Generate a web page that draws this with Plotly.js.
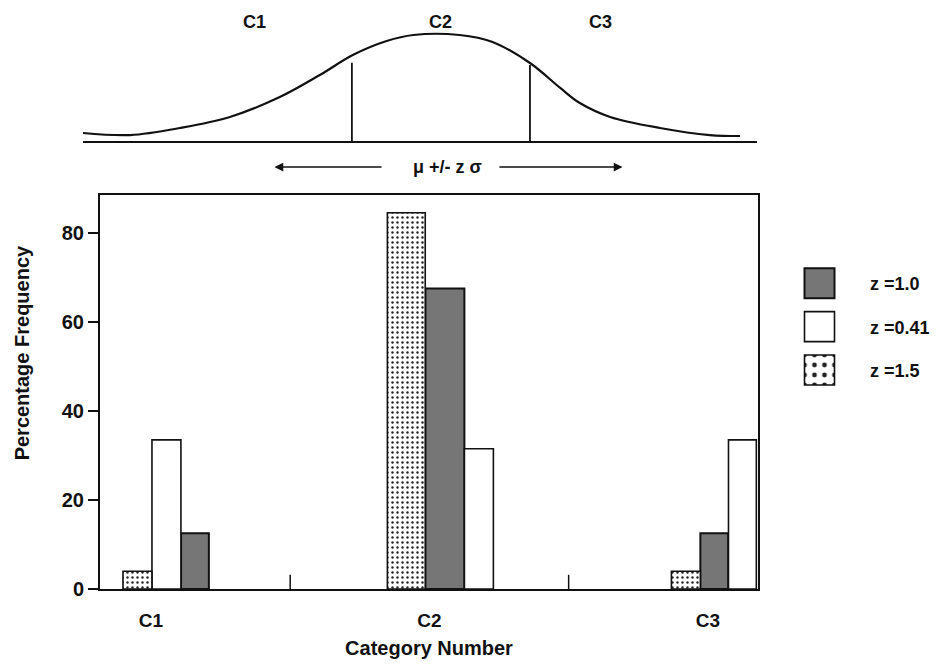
<!DOCTYPE html>
<html>
<head>
<meta charset="utf-8">
<script src="https://cdn.plot.ly/plotly-3.0.1.min.js"></script>
<style>html,body{margin:0;padding:0;background:#fff;}#chart{width:942px;height:664px;}</style>
</head>
<body>
<div id="chart"></div>
<script>
// ---------------- data ----------------
const categories = ['C1', 'C2', 'C3'];
const seriesNames = ['z =1.0', 'z =0.41', 'z =1.5'];
const valuesZ10 = [12.5, 67.5, 12.5];   // grey bars
const valuesZ041 = [33.5, 31.5, 33.5];  // white bars
const valuesZ15 = [4, 84.5, 4];         // dotted bars
const yTickValues = [0, 20, 40, 60, 80];
const xTitle = 'Category Number';
const yTitle = 'Percentage Frequency';

// schematic normal curve (x in sigma units, relative height)
const curveX = [-4.02, -3.49, -2.93, -2.37, -1.81, -1.36, -0.99, -0.61, -0.31, 0.21, 0.58, 1.0, 1.34, 1.56, 1.90, 2.46, 3.02, 3.36];
const curveY = [0.084, 0.065, 0.131, 0.234, 0.42, 0.626, 0.813, 0.944, 1.0, 1.0, 0.935, 0.738, 0.505, 0.364, 0.234, 0.131, 0.065, 0.056];
const cutX = [-1, 1];
const cutTop = [0.74, 0.72];
const rangeLabel = '\u03bc +/- z \u03c3';

// ---------------- styles / layout ----------------
const FONT = 'Liberation Sans, Arial, Helvetica, sans-serif';
const barGeom = {
  z10:  {offset: [0.108, -0.0144, -0.027], width: [0.100, 0.140, 0.100]},
  z041: {offset: [0.0036, 0.1257, 0.074], width: [0.104, 0.104, 0.100]},
  z15:  {offset: [-0.1005, -0.151, -0.131], width: [0.104, 0.136, 0.104]}
};
const topLabelX = [-2.09, 0, 1.79];
const topLabelY = 1.12;
const arrowY = -0.234;

const traces = [
  {type: 'bar', name: seriesNames[0], x: categories, y: valuesZ10,
   offset: barGeom.z10.offset, width: barGeom.z10.width,
   marker: {color: '#767676', line: {color: '#111', width: 2}}, legendgroup: 'a'},
  {type: 'bar', name: seriesNames[1], x: categories, y: valuesZ041,
   offset: barGeom.z041.offset, width: barGeom.z041.width,
   marker: {color: '#ffffff', line: {color: '#111', width: 1.6}}, legendgroup: 'b'},
  {type: 'bar', name: seriesNames[2], x: categories, y: valuesZ15,
   offset: barGeom.z15.offset, width: barGeom.z15.width,
   marker: {color: '#ffffff', line: {color: '#111', width: 1.6},
            pattern: {shape: '.', fgcolor: '#222', bgcolor: '#ffffff', size: 5, solidity: 0.18, fillmode: 'replace'}},
   legendgroup: 'c'},
  {type: 'scatter', mode: 'lines', x: curveX, y: curveY, xaxis: 'x2', yaxis: 'y2',
   line: {color: '#111', width: 2.2, shape: 'spline', smoothing: 1.0}, showlegend: false, hoverinfo: 'skip'}
];
// vertical cut lines under the curve
const cx = [], cy = [];
cutX.forEach((v, i) => { cx.push(v, v, null); cy.push(0, cutTop[i], null); });
traces.push({type: 'scatter', mode: 'lines', x: cx, y: cy, xaxis: 'x2', yaxis: 'y2',
  line: {color: '#111', width: 1.8}, showlegend: false, hoverinfo: 'skip'});

const annotations = [];
categories.forEach((c, i) => annotations.push({
  xref: 'x2', yref: 'y2', x: topLabelX[i], y: topLabelY, text: c, showarrow: false,
  font: {family: FONT, size: 18, weight: 'bold', color: '#111'}, xanchor: 'center', yanchor: 'middle'}));
annotations.push({xref: 'x2', yref: 'y2', x: 0.07, y: arrowY, text: rangeLabel, showarrow: false,
  font: {family: FONT, size: 18, weight: 'bold', color: '#111'}, xanchor: 'center', yanchor: 'middle'});
annotations.push({xref: 'x2', yref: 'y2', axref: 'x2', ayref: 'y2', x: -1.87, y: arrowY, ax: -0.65, ay: arrowY,
  text: '', showarrow: true, arrowhead: 2, arrowsize: 1.1, arrowwidth: 1.6, arrowcolor: '#111'});
annotations.push({xref: 'x2', yref: 'y2', axref: 'x2', ayref: 'y2', x: 2.04, y: arrowY, ax: 0.64, ay: arrowY,
  text: '', showarrow: true, arrowhead: 2, arrowsize: 1.1, arrowwidth: 1.6, arrowcolor: '#111'});
annotations.push({xref: 'paper', yref: 'paper', x: -0.085, y: (589 - 353) / 579, text: yTitle, textangle: -90,
  showarrow: false, xanchor: 'center', yanchor: 'middle',
  font: {family: FONT, size: 20, weight: 'bold', color: '#111'}});

const shapes = [0.5, 1.5].map(v => ({type: 'line', xref: 'x', yref: 'y', x0: v, x1: v, y0: 0, y1: 3.2,
  line: {color: '#111', width: 1.5}}));

const layout = {
  width: 942, height: 664,
  margin: {l: 80, r: 184, t: 10, b: 75, autoexpand: false},
  paper_bgcolor: '#ffffff', plot_bgcolor: 'rgba(0,0,0,0)',
  font: {family: FONT, color: '#111'},
  barmode: 'overlay',
  showlegend: true,
  legend: {x: (769 - 80) / 678, y: (589 - 265) / 579, xanchor: 'left', yanchor: 'top',
           font: {family: FONT, size: 18, weight: 'bold', color: '#111'},
           tracegroupgap: 17, itemwidth: 91, bgcolor: 'rgba(0,0,0,0)', borderwidth: 0},
  xaxis: {type: 'category', domain: [20 / 678, 1], range: [-0.183, 2.18], anchor: 'y',
          showline: true, linecolor: '#111', linewidth: 2, mirror: true,
          ticks: '', showgrid: false, zeroline: false, ticklabelstandoff: 13,
          tickfont: {family: FONT, size: 19, weight: 'bold', color: '#111'},
          title: {text: xTitle, standoff: 11, font: {family: FONT, size: 20, weight: 'bold', color: '#111'}}},
  yaxis: {domain: [0, (589 - 195) / 579], range: [0, 88.5], anchor: 'x',
          tickvals: yTickValues, ticks: 'outside', ticklen: 10, tickwidth: 1.5, tickcolor: '#111',
          showline: true, linecolor: '#111', linewidth: 2, mirror: true,
          showgrid: false, zeroline: false,
          tickfont: {family: FONT, size: 20, weight: 'bold', color: '#111'}},
  xaxis2: {domain: [3 / 678, 677 / 678], range: [-4.02, 3.55], anchor: 'y2',
           showline: false, showticklabels: false, ticks: '',
           showgrid: false, zeroline: false},
  yaxis2: {domain: [(589 - 174.1) / 579, (589 - 13.6) / 579], range: [-0.3, 1.2], anchor: 'x2',
           showline: false, showticklabels: false, ticks: '', showgrid: false,
           zeroline: true, zerolinecolor: '#111', zerolinewidth: 2.5},
  annotations: annotations,
  shapes: shapes
};

Plotly.newPlot('chart', traces, layout, {staticPlot: true, displayModeBar: false}).then(gd => {
  document.querySelectorAll('.legend .legendpoints path').forEach(p => {
    const t = p.getAttribute('transform') || '';
    p.setAttribute('transform', t + ' scale(2.5)');
    p.style.vectorEffect = 'non-scaling-stroke';
  });
});
</script>
</body>
</html>
